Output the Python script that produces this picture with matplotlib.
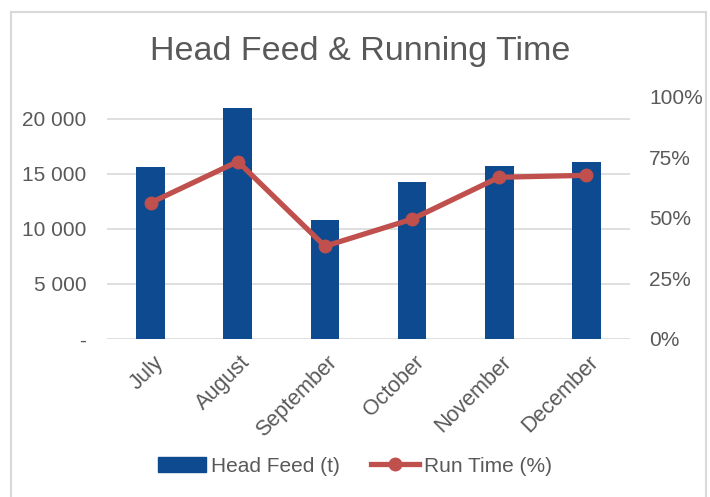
import matplotlib
matplotlib.use("Agg")
import matplotlib.pyplot as plt
from matplotlib.ticker import FuncFormatter
from matplotlib.patches import Rectangle
from matplotlib.lines import Line2D
from matplotlib.patches import Patch
from matplotlib.transforms import ScaledTranslation

months = ["July", "August", "September", "October", "November", "December"]
head_feed = [15650, 21000, 10800, 14270, 15720, 16070]
run_time = [56.3, 73.3, 38.3, 49.5, 66.8, 67.6]
left_ticks = [0, 5000, 10000, 15000, 20000]
right_ticks = [0, 25, 50, 75, 100]

plt.rcParams['font.family'] = ['Liberation Sans', 'DejaVu Sans']
txt = "#595959"
bar_c = "#0D4A8F"
line_c = "#C0504D"

fig = plt.figure(figsize=(7.10, 4.97), dpi=100)
ax = fig.add_axes([0.151, 0.318, 0.736, 0.487])
ax2 = ax.twinx()

x = range(len(months))
ax.bar(x, head_feed, width=0.33, color=bar_c, zorder=2)
ax2.plot(x, run_time, color=line_c, lw=3.8, marker="o", ms=9, zorder=3)

ax.set_ylim(0, 22000)
ax2.set_ylim(0, 100)
ax.set_xlim(-0.5, len(months) - 0.5)
ax.set_yticks(left_ticks)
ax.yaxis.set_major_formatter(FuncFormatter(lambda v, p: "-" if v == 0 else f"{int(v):,}".replace(",", " ")))
ax2.set_yticks(right_ticks)
ax2.yaxis.set_major_formatter(FuncFormatter(lambda v, p: f"{int(v)}%"))
ax.grid(axis="y", color="#D9D9D9", lw=1.2, zorder=0)
ax.set_axisbelow(True)
for a in (ax, ax2):
    for s in a.spines.values():
        s.set_visible(False)
    a.tick_params(length=0, labelsize=15, colors=txt)
ax.tick_params(axis="y", pad=15)
ax2.tick_params(axis="y", pad=14)
ax.set_xticks(list(x))
ax.set_xticklabels(months, rotation=45, ha="right", rotation_mode="anchor", fontsize=15.5)
ax.tick_params(axis="x", pad=9)
offset = ScaledTranslation(2 / 100, 0, fig.dpi_scale_trans)
for lbl in ax.get_xticklabels():
    lbl.set_transform(lbl.get_transform() + offset)

fig.text(0.507, 0.897, "Head Feed & Running Time", ha="center", va="center", fontsize=24.5, color=txt)

handles = [Patch(color=bar_c), Line2D([0], [0], color=line_c, lw=3.8, marker="o", ms=9)]
fig.legend(handles, ["Head Feed (t)", "Run Time (%)"], loc="center", bbox_to_anchor=(0.5, 0.062),
           ncol=2, frameon=False, fontsize=15, labelcolor=txt, handlelength=2.3, handletextpad=0.25,
           columnspacing=1.5)

fig.patches.append(Rectangle((0.016, -0.01), 0.978, 0.986, transform=fig.transFigure,
                             fill=False, edgecolor="#D9D9D9", lw=1.5))
fig.savefig("out.png", dpi=100)
